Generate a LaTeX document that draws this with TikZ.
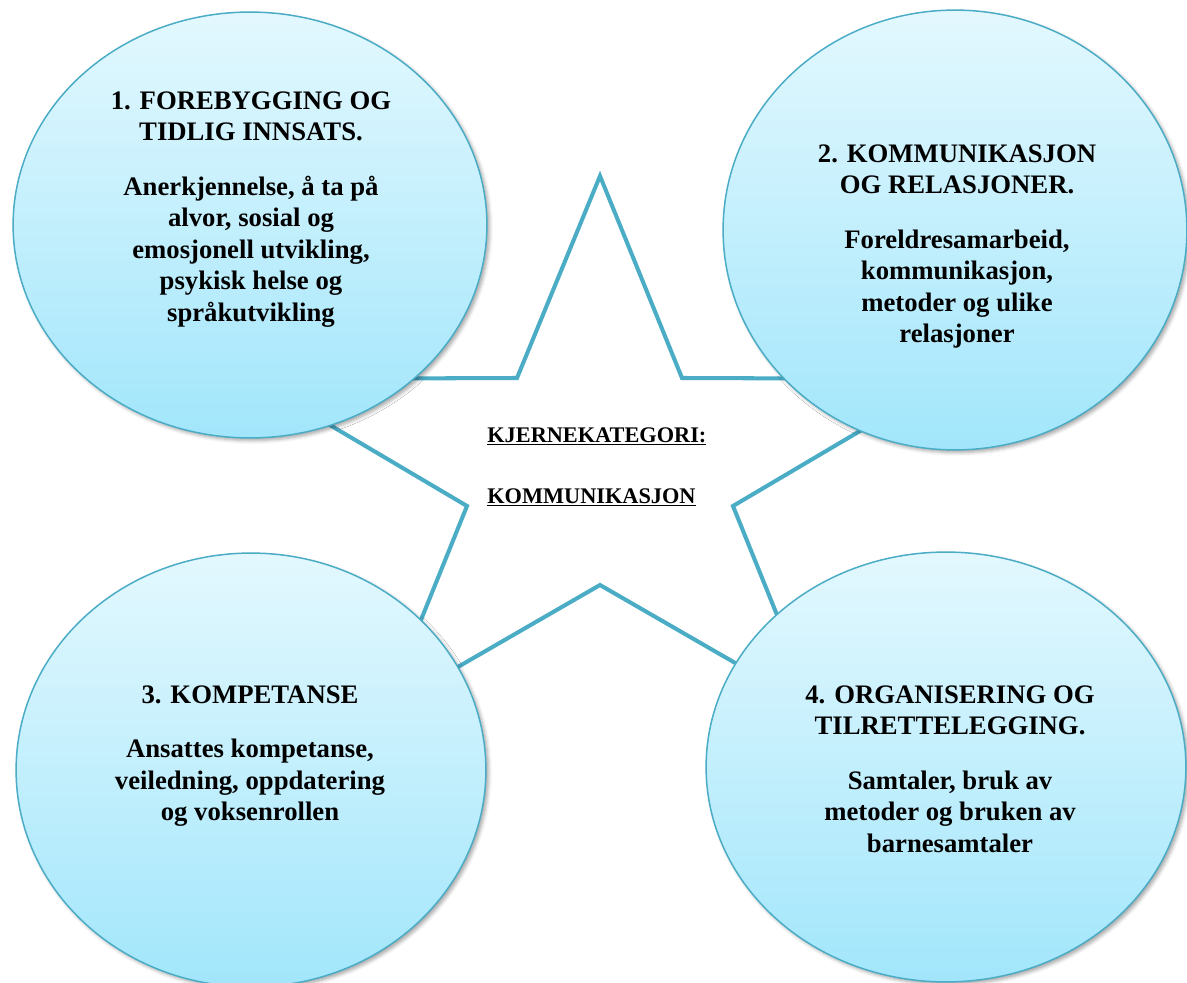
\documentclass[tikz,border=0pt]{standalone}
\usepackage{fontspec}
\setmainfont{Liberation Serif}
\usetikzlibrary{shapes.geometric,calc,shadows.blur}
\definecolor{kant}{HTML}{4BACC6}
\definecolor{lystopp}{HTML}{E3F8FE}
\definecolor{lysbunn}{HTML}{A2E6FB}
\tikzset{
  boble/.style={ellipse,draw=kant,line width=0.85pt,top color=lystopp,bottom color=lysbunn,inner sep=0pt,
    blur shadow={shadow xshift=1.5pt,shadow yshift=-1.5pt,shadow blur radius=2pt,shadow opacity=35}},
  tekst/.style={anchor=north,align=center,inner sep=0pt,font=\bfseries\fontsize{15.2}{17.9}\selectfont},
  kjerne/.style={anchor=base west,inner sep=0pt,font=\bfseries\fontsize{12.7}{15}\selectfont}
}
\begin{document}
\begin{tikzpicture}[x=0.02cm,y=-0.02cm,line join=round,line cap=round]
\useasboundingbox (0,0) rectangle (1187,983);
\clip (0,0) rectangle (1187,983);
% stjerne
\coordinate (A) at (600,176);
\coordinate (B) at (682,378);
\coordinate (C) at (948,379);
\coordinate (D) at (733,506);
\coordinate (E) at (815,709);
\coordinate (F) at (600,585);
\coordinate (G) at (385,709);
\coordinate (H) at (467,506);
\coordinate (I) at (252,379);
\coordinate (J) at (517,378);
\draw[kant,line width=2.3pt,line join=miter,fill=white](A)--(B)--(C)--(D)--(E)--(F)--(G)--(H)--(I)--(J)--cycle;
% bobler
\foreach \n/\x/\y/\rx/\ry in {e1/250/225/237/213,e2/955/230/232/220,e3/251/770/235/217,e4/946/767/240/215}{
  \node[boble,minimum width=\rx*0.04cm,minimum height=\ry*0.04cm] (\n) at (\x,\y) {};}
\node[tekst] (t1) at ($(e1.center)+(1,-134)$) {1. FOREBYGGING OG\\TIDLIG INNSATS.\\[13.3pt]
  Anerkjennelse, å ta på\\alvor, sosial og\\emosjonell utvikling,\\psykisk helse og\\språkutvikling};
\node[tekst] (t2) at ($(e2.center)+(2,-86)$) {2. KOMMUNIKASJON\\OG RELASJONER.\\[13.3pt]
  Foreldresamarbeid,\\kommunikasjon,\\metoder og ulike\\relasjoner};
\node[tekst] (t3) at ($(e3.center)+(-1,-85)$) {3. KOMPETANSE\\[13.3pt]
  Ansattes kompetanse,\\veiledning, oppdatering\\og voksenrollen};
\node[tekst] (t4) at ($(e4.center)+(4,-82)$) {4. ORGANISERING OG\\TILRETTELEGGING.\\[13.3pt]
  Samtaler, bruk av\\metoder og bruken av\\barnesamtaler};
% midten
\node[kjerne] (k1) at (487,442) {\underline{KJERNEKATEGORI:}};
\node[kjerne] (k2) at (487,503) {\underline{KOMMUNIKASJON}};
\end{tikzpicture}
\end{document}
